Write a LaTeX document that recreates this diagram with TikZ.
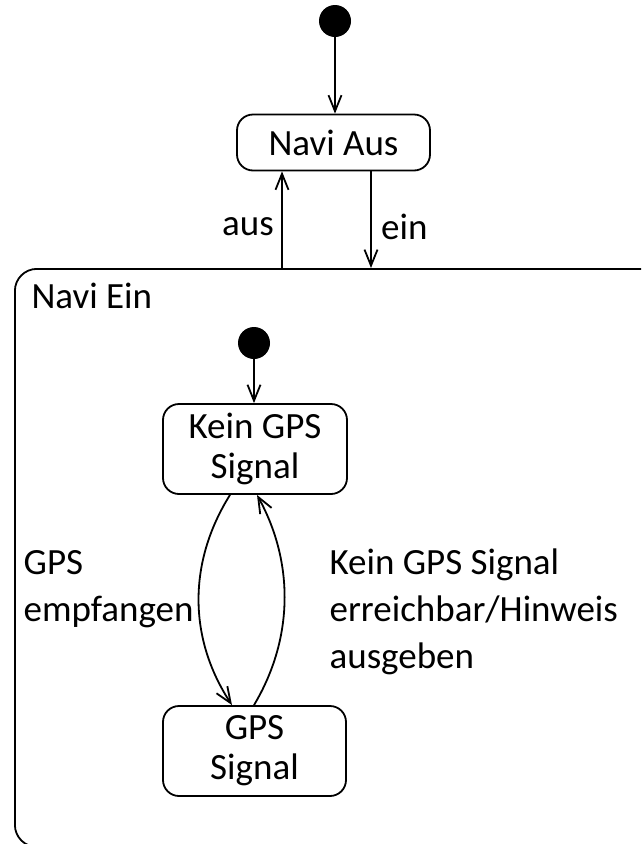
\documentclass[tikz,border=0pt]{standalone}
\usepackage{fontspec}
\setmainfont{Carlito}
\usetikzlibrary{positioning,arrows.meta}

\begin{document}
\begin{tikzpicture}[x=1pt,y=-1pt,
            state/.style={rectangle,rounded corners=16pt,draw,line width=1.8pt,align=center,inner sep=0pt,font=\fontsize{37}{40}\selectfont},
            composite/.style={rectangle,rounded corners=22pt,draw,line width=1.8pt,anchor=north west,minimum width=700pt,minimum height=578pt},
            initial/.style={circle,fill=black,minimum size=32pt,inner sep=0pt},
            lbl/.style={align=left,font=\fontsize{37}{47}\selectfont},
            arrow/.style={-{Straight Barb[length=16pt,width=13pt,line width=1.8pt]},line width=1.8pt}]
            \clip (0,0) rectangle (641,844);
            \node[initial] (start) at (335,21) {};
            \node[state,minimum width=193pt,minimum height=56pt] (naviaus) at (333.5,142.5) {Navi Aus};
            \node[composite] (naviein) at (14,268) {};
            \node[lbl,anchor=west] (eintitle) at ([xshift=14pt,yshift=-28pt]naviein.north west) {Navi Ein};
            \node[initial] (start2) at (254,343) {};
            \node[state,minimum width=184pt,minimum height=90pt] (kein) at (255,449) {Kein GPS\\Signal};
            \node[state,minimum width=183pt,minimum height=90pt] (gps) at (254.5,751) {GPS\\Signal};
            \draw[arrow] (start) -- (start |- naviaus.north);
            \draw[arrow] ([xshift=-51.5pt]naviaus.south |- naviein.north) -- ([xshift=-51.5pt]naviaus.south) node[lbl,midway,left=4pt,yshift=-7pt] {aus};
            \draw[arrow] ([xshift=37.5pt]naviaus.south) -- ([xshift=37.5pt]naviaus.south |- naviein.north) node[lbl,midway,right=6pt,yshift=-7pt] {ein};
            \draw[arrow] (start2) -- (start2 |- kein.north);
            \draw[arrow] ([xshift=-25pt]kein.south) .. controls (188,562) and (188,638) .. ([xshift=-22.5pt]gps.north) node[lbl,pos=0.5,anchor=east,xshift=-1pt,yshift=11pt] {GPS\\empfangen};
            \draw[arrow] ([xshift=-0.5pt]gps.north) .. controls (294,638) and (294,562) .. ([xshift=2pt]kein.south) node[lbl,pos=0.5,anchor=west,xshift=41pt,yshift=-12pt] {Kein GPS Signal\\erreichbar/Hinweis\\ausgeben};
        \end{tikzpicture}
\end{document}
